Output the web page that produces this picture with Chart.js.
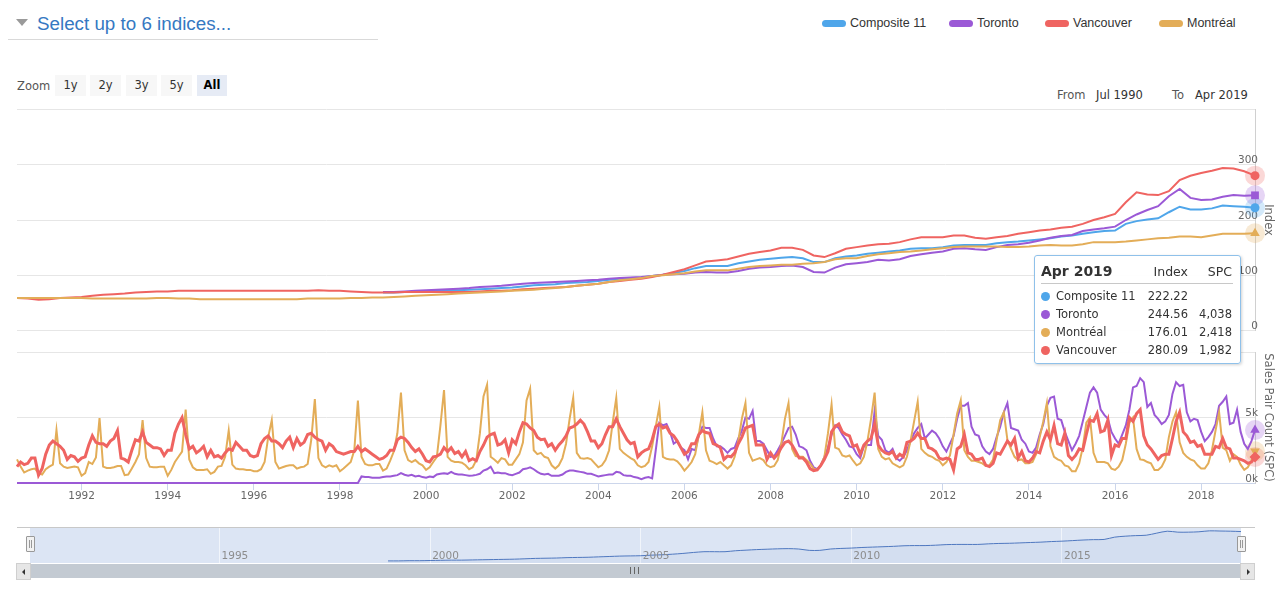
<!DOCTYPE html>
<html>
<head>
<meta charset="utf-8">
<title>House price index and sales pair count</title>
<script src="https://cdn.jsdelivr.net/npm/chart.js@4.4.1/dist/chart.umd.min.js"></script>
<style>
  html, body { margin: 0; padding: 0; background: #fff; }
  #page { position: relative; width: 1280px; height: 593px; overflow: hidden; font-family: "Liberation Sans", Arial, sans-serif; }
  .abs { position: absolute; }
  #caret { left: 16px; top: 19px; width: 0; height: 0; border-left: 6px solid transparent; border-right: 6px solid transparent; border-top: 7px solid #9a9a9a; }
  #picker { left: 37px; top: 14px; font-size: 18.8px; line-height: 19px; color: #3578c2; white-space: nowrap; }
  #pickerLine { left: 8px; top: 39px; width: 370px; height: 1px; background: #d9d9d9; }
  .leg { top: 14px; height: 18px; font-size: 12.5px; line-height: 18px; color: #333; }
  .leg i { position: absolute; left: 0; top: 6px; width: 24px; height: 7px; border-radius: 4px; }
  .leg span { position: absolute; left: 28px; top: 0; white-space: nowrap; }
  .hc { font-family: "DejaVu Sans", sans-serif; font-size: 11.5px; }
  #zoomLbl { left: 17px; top: 79px; color: #555; }
  .btn { top: 75px; height: 21px; line-height: 21px; background: #f7f7f7; color: #333; text-align: center; }
  .btn.on { background: #e6ebf5; color: #000; font-weight: bold; }
  .rng { top: 88px; color: #333; white-space: nowrap; }
  .rng.lbl { color: #555; }
  canvas { position: absolute; left: 0; }
  #cIndex { top: 100px; }
  #cSpc { top: 340px; }
  #cNav { top: 520px; }
  #navTop { left: 17px; top: 527px; width: 1238px; height: 1px; background: #c8c8c8; }
  .handle { top: 536px; width: 7px; height: 14px; background: #f2f2f2; border: 1px solid #999; border-radius: 1px; }
  .handle:after { content: ""; position: absolute; left: 2px; top: 3px; width: 1px; height: 8px; border-left: 1px solid #999; border-right: 1px solid #999; }
  #sbar { left: 30px; top: 564px; width: 1211px; height: 14px; background: #c3cad2; }
  #grip { left: 630px; top: 567px; width: 7px; height: 7px; border-left: 1px solid #666; border-right: 1px solid #666; }
  #grip:after { content: ""; position: absolute; left: 3px; top: 0; width: 1px; height: 7px; background: #666; }
  .sbtn { top: 563px; width: 13px; height: 15px; background: #e6e6e6; border: 1px solid #cfcfcf; }
  .sbtn b { position: absolute; top: 5px; width: 0; height: 0; border-top: 3px solid transparent; border-bottom: 3px solid transparent; }
  #tip { left: 1034px; top: 255px; width: 207px; height: 109px; box-sizing: border-box; background: rgba(255,255,255,0.96); border: 1px solid #8fc1ea; border-radius: 3px; box-shadow: 1px 1px 3px rgba(0,0,0,0.18); font-family: "DejaVu Sans", sans-serif; color: #333; }
  #tip div { position: absolute; white-space: nowrap; }
  #tip .r { text-align: right; }
</style>
</head>
<body>
<div id="page">
  <div id="caret" class="abs"></div>
  <div id="picker" class="abs">Select up to 6 indices...</div>
  <div id="pickerLine" class="abs"></div>
  <div id="legend"></div>

  <div id="zoomLbl" class="abs hc">Zoom</div>
  <div id="zoomBtns"></div>
  <div class="abs hc rng lbl" style="left:1057px">From</div>
  <div class="abs hc rng" style="left:1096px">Jul 1990</div>
  <div class="abs hc rng lbl" style="left:1172px">To</div>
  <div class="abs hc rng" style="left:1195px">Apr 2019</div>

  <canvas id="cIndex" width="1280" height="240"></canvas>
  <canvas id="cSpc" width="1280" height="165"></canvas>
  <canvas id="cNav" width="1280" height="60"></canvas>

  <div id="navTop" class="abs"></div>
  <div class="abs handle" style="left:26px"></div>
  <div class="abs handle" style="left:1237px"></div>
  <div id="sbar" class="abs"></div>
  <div id="grip" class="abs"></div>
  <div class="abs sbtn" style="left:16px"><b style="left:5px;border-right:3px solid #333"></b></div>
  <div class="abs sbtn" style="left:1240px"><b style="left:6px;border-left:3px solid #333"></b></div>

  <div id="tip" class="abs"></div>
</div>

<script>
// ---- data ----------------------------------------------------------------
const FIRST = 1990.5;   // Jul 1990
const LAST = 2019.25;   // Apr 2019

const seriesNames = ['Composite 11', 'Toronto', 'Vancouver', 'Montréal'];
const seriesColors = ['#4fa6ea', '#9b59d6', '#ef6461', '#e3ad58'];

const indexTicks = [0, 100, 200, 300, 400];
const spcTicks = [0, 5, 10];
const yearTicks = [1992, 1994, 1996, 1998, 2000, 2002, 2004, 2006, 2008, 2010, 2012, 2014, 2016, 2018];
const navTicks = [1995, 2000, 2005, 2010, 2015];
const zoomButtons = ['1y', '2y', '3y', '5y', 'All'];

// index, quarterly (Jan, Apr, Jul, Oct)
const idxVancouver = [
  59, 58,
  56, 57, 59, 60,   61, 63, 65, 66,   67, 69, 70, 71,   71, 72, 72, 72,
  72, 72, 72, 72,   72, 72, 72, 72,   72, 72, 73, 72,   72, 71, 70, 69,
  69, 69, 70, 70,   70, 70, 70, 70,   70, 71, 72, 72,   73, 75, 76, 77,
  78, 79, 81, 83,   85, 88, 90, 92,   94, 97, 101, 106, 111, 118, 125, 127,
  129, 134, 139, 142, 145, 150, 150, 146, 136, 133, 140, 148, 151, 154, 156, 157,
  160, 165, 169, 169, 169, 172, 172, 168, 166, 169, 171, 175, 178, 181, 183, 186,
  188, 193, 200, 205, 211, 232, 250, 246, 245, 252, 272, 280, 285, 289, 294, 293,
  288, 280.09
];
const idxMontreal = [
  59, 59,
  59, 59, 59, 59,   59, 58, 58, 58,   58, 58, 58, 59,   59, 58, 58, 57,
  57, 57, 57, 57,   57, 57, 57, 57,   57, 58, 58, 58,   58, 59, 59, 60,
  60, 61, 62, 63,   64, 65, 66, 67,   68, 69, 70, 71,   72, 73, 74, 76,
  77, 79, 81, 83,   85, 88, 91, 93,   95, 99, 100, 102, 104, 107, 109, 109,
  109, 112, 115, 117, 118, 119, 119, 121, 122, 124, 129, 131, 131, 135, 138, 140,
  142, 143, 145, 147, 149, 151, 152, 152, 152, 152, 151, 151, 152, 154, 155, 154,
  154, 156, 160, 160, 160, 161, 163, 165, 167, 168, 170, 170, 169, 172, 175, 175,
  175, 176.01
];
// Toronto and Composite 11 start in Jan 1999
const idxToronto = [
  70, 70, 71, 72,   73, 74, 75, 76,   77, 79, 80, 81,   83, 85, 86, 87,
  88, 89, 90, 91,   92, 94, 95, 96,   97, 99, 101, 102, 103, 105, 106, 105,
  105, 108, 112, 114, 115, 117, 118, 115, 106, 105, 114, 120, 122, 124, 128, 127,
  129, 135, 138, 141, 143, 148, 149, 147, 146, 151, 155, 156, 159, 163, 168, 171,
  173, 180, 183, 185, 188, 200, 210, 218, 225, 243, 256, 240, 236, 237, 242, 245,
  244, 244.56
];
const idxComposite = [
  69, 69, 70, 70,   71, 72, 73, 73,   74, 75, 76, 77,   78, 80, 82, 83,
  84, 86, 87, 88,   90, 92, 94, 95,   96, 99, 101, 104, 108, 113, 117, 117,
  117, 122, 125, 128, 130, 132, 133, 131, 124, 124, 131, 134, 136, 139, 141, 143,
  145, 148, 149, 149, 151, 154, 155, 155, 155, 158, 160, 161, 163, 165, 167, 170,
  172, 175, 178, 180, 181, 193, 198, 201, 203, 214, 224, 219, 219, 221, 226, 225,
  224, 222.22
];

// sales pair count, monthly, thousands (Jul 1990 .. Apr 2019)
const spcVancouver = [
  1.25, 1.6, 1.4, 1.5, 1.9, 1.9,
  0.6, 1.1, 2.2, 2.9, 3.2, 3.0, 2.8, 2.5, 1.8, 2.1, 2.0, 1.65,
  1.9, 2.0, 2.9, 3.6, 3.1, 3.0, 3.0, 2.8, 3.2, 3.4, 4.0, 1.9,
  1.8, 1.6, 2.5, 3.3, 3.2, 3.9, 3.1, 2.9, 2.7, 2.7, 2.6, 2.1,
  2.5, 2.5, 3.8, 4.5, 5.0, 3.7, 2.6, 2.8, 2.3, 2.5, 2.8, 2.0,
  2.5, 2.0, 2.1, 1.9, 2.3, 2.6, 2.5, 3.1, 2.8, 2.5, 2.5, 2.1,
  2.0, 2.1, 3.0, 3.4, 3.6, 3.2, 3.2, 3.0, 2.7, 3.2, 3.5, 2.7,
  3.4, 2.9, 3.1, 3.7, 3.8, 3.5, 3.3, 3.2, 2.5, 3.0, 2.8, 2.4,
  2.3, 2.2, 2.3, 2.4, 2.4, 2.8, 2.4, 2.6, 2.4, 2.2, 2.0, 1.8,
  1.9, 2.1, 2.5, 2.5, 3.3, 3.5, 3.4, 3.1, 2.7, 2.4, 2.6, 2.2,
  1.7, 1.6, 2.0, 2.05, 2.2, 2.7, 2.4, 2.7, 2.25, 2.4, 2.0, 2.4,
  1.7, 1.85, 1.7, 2.4, 2.9, 3.5, 3.7, 3.8, 2.9, 3.0, 3.3, 2.3,
  3.3, 3.0, 3.9, 4.6, 4.5, 4.2, 4.0, 3.5, 3.3, 3.35, 2.8, 3.0,
  2.5, 2.9, 3.2, 3.6, 4.2, 4.3, 4.5, 4.8, 4.5, 3.9, 3.2, 3.2,
  2.7, 3.0, 3.7, 4.3, 4.3, 4.9, 4.3, 3.8, 3.3, 3.0, 3.1, 2.0,
  2.3, 2.5, 2.6, 3.3, 4.3, 4.5, 4.2, 4.3, 3.8, 3.6, 3.2, 2.7,
  2.2, 2.4, 3.0, 3.0, 3.7, 4.0, 3.85, 3.8, 3.0, 2.9, 2.7, 1.8,
  2.05, 2.0, 2.3, 3.0, 3.5, 4.2, 4.3, 4.4, 2.9, 2.9, 2.9, 1.8,
  2.3, 1.9, 2.2, 2.7, 3.1, 3.2, 2.9, 2.4, 1.9, 1.9, 1.6, 1.1,
  0.95, 1.0, 1.35, 1.8, 2.4, 3.9, 4.3, 4.5, 3.9, 3.7, 3.6, 2.8,
  2.9, 2.2, 2.9, 3.2, 3.4, 4.5, 2.9, 2.5, 2.3, 2.2, 2.4, 1.9,
  2.2, 2.0, 3.1, 3.2, 3.4, 3.8, 3.4, 3.4, 2.7, 2.6, 2.4, 1.9,
  1.8, 1.9, 1.8, 1.0, 2.6, 2.8, 3.7, 2.3, 2.2, 1.8, 1.8, 1.9,
  1.35, 1.25, 1.5, 2.3, 2.2, 2.7, 3.2, 2.9, 3.4, 1.9, 2.4, 1.7,
  1.6, 1.9, 2.4, 2.3, 3.2, 3.9, 3.3, 4.4, 3.0, 2.9, 3.8, 2.1,
  1.8, 2.1, 2.6, 2.5, 3.7, 4.8, 4.7, 5.3, 3.9, 4.0, 4.8, 2.1,
  2.9, 2.8, 3.4, 3.4, 5.0, 4.7, 5.3, 5.6, 3.6, 2.9, 2.6, 2.2,
  1.8, 2.1, 2.2, 2.2, 3.4, 4.7, 5.4, 3.9, 3.6, 3.1, 3.2, 2.8,
  2.9, 2.2, 2.2, 2.2, 2.8, 2.7, 3.4, 2.7, 2.6, 1.9, 1.9, 1.8,
  1.7, 1.5, 1.6, 1.982
];
const spcMontreal = [
  1.8, 1.25, 0.8, 0.95, 1.05, 1.1,
  0.75, 0.65, 1.05, 1.25, 1.4, 4.05, 1.5, 1.25, 1.15, 1.2, 1.25, 1.2,
  0.55, 0.75, 1.6, 1.45, 1.95, 4.95, 1.25, 1.15, 1.15, 1.2, 1.3, 1.3,
  0.6, 0.65, 1.1, 1.6, 2.2, 4.8, 1.9, 1.25, 1.2, 1.2, 1.25, 1.25,
  0.55, 1.0, 1.6, 2.0, 2.4, 5.6, 1.8, 1.2, 1.0, 1.0, 1.0, 1.05,
  0.7, 0.85, 1.25, 1.3, 2.0, 4.0, 1.4, 1.1, 1.05, 1.05, 1.0, 1.0,
  0.9, 0.9, 1.05, 1.6, 3.5, 4.8, 1.6, 1.1, 1.2, 1.3, 1.35, 1.35,
  1.1, 1.2, 1.25, 1.45, 3.3, 6.4, 1.9, 1.35, 1.2, 1.35, 1.25, 1.35,
  0.9, 1.1, 1.35, 1.6, 2.5, 6.3, 2.0, 1.45, 1.35, 1.35, 1.45, 1.45,
  0.95, 1.1, 1.7, 2.4, 3.8, 6.9, 2.5, 1.75, 1.6, 1.75, 1.5, 1.35,
  1.0, 1.2, 1.6, 2.0, 4.4, 7.1, 2.0, 1.7, 1.6, 1.6, 1.55, 1.35,
  1.05, 1.2, 1.75, 3.8, 6.6, 7.5, 2.0, 1.8, 1.55, 1.9, 1.8, 1.4,
  1.4, 1.8, 2.2, 3.1, 6.3, 7.2, 2.5, 2.2, 2.3, 2.0, 1.9, 1.35,
  1.1, 1.35, 1.9, 3.0, 4.9, 6.5, 2.3, 1.9, 1.85, 1.9, 1.8, 1.5,
  1.2, 1.35, 1.75, 2.5, 4.6, 6.5, 2.6, 2.3, 2.1, 1.9, 1.75, 1.35,
  1.2, 1.3, 1.6, 2.8, 4.3, 5.8, 2.0, 1.85, 1.8, 1.8, 1.65, 1.35,
  0.95, 1.25, 1.6, 2.2, 3.7, 5.4, 2.5, 1.7, 1.6, 1.45, 1.6, 1.35,
  1.1, 1.35, 2.0, 3.2, 4.9, 6.1, 2.3, 1.7, 1.8, 1.9, 1.75, 1.35,
  1.2, 1.3, 1.75, 3.0, 4.9, 6.1, 2.6, 2.05, 2.0, 2.0, 1.75, 1.5,
  1.1, 1.0, 1.35, 2.0, 3.8, 6.0, 2.7, 2.6, 2.1, 2.0, 2.1, 1.7,
  1.35, 1.5, 2.0, 3.2, 4.9, 6.9, 2.6, 2.0, 1.8, 1.9, 1.5, 1.35,
  1.2, 1.35, 2.0, 3.2, 4.7, 6.2, 2.6, 2.3, 2.1, 2.0, 1.8, 1.7,
  1.35, 1.6, 2.1, 3.7, 5.3, 6.3, 2.5, 2.0, 1.7, 1.7, 1.6, 1.5,
  1.3, 1.35, 1.8, 3.3, 4.8, 5.4, 3.3, 2.6, 2.0, 1.75, 1.8, 1.5,
  1.5, 1.6, 2.2, 3.5, 4.7, 6.1, 2.8, 2.0, 1.8, 1.7, 1.35, 1.25,
  0.9, 0.9, 1.5, 2.7, 4.6, 5.0, 2.3, 1.6, 1.6, 1.6, 1.5, 1.1,
  1.0, 1.25, 1.75, 3.0, 4.6, 5.0, 2.6, 1.8, 1.75, 1.6, 1.5, 1.0,
  1.0, 1.25, 1.8, 3.5, 4.7, 5.4, 3.1, 2.3, 2.0, 1.8, 1.7, 1.35,
  1.1, 1.1, 1.5, 2.5, 4.0, 5.4, 2.7, 2.5, 1.7, 2.2, 2.0, 1.4,
  1.0, 1.2, 1.7, 2.418
];
const spcToronto = [
  0, 0, 0, 0, 0, 0,
  0, 0, 0, 0, 0, 0, 0, 0, 0, 0, 0, 0,
  0, 0, 0, 0, 0, 0, 0, 0, 0, 0, 0, 0,
  0, 0, 0, 0, 0, 0, 0, 0, 0, 0, 0, 0,
  0, 0, 0, 0, 0, 0, 0, 0, 0, 0, 0, 0,
  0, 0, 0, 0, 0, 0, 0, 0, 0, 0, 0, 0,
  0, 0, 0, 0, 0, 0, 0, 0, 0, 0, 0, 0,
  0, 0, 0, 0, 0, 0, 0, 0, 0, 0, 0, 0,
  0, 0, 0, 0, 0, 0, 0.5, 0.45, 0.45, 0.4, 0.4, 0.4,
  0.45, 0.5, 0.5, 0.55, 0.6, 0.75, 0.63, 0.55, 0.63, 0.5, 0.55, 0.45,
  0.4, 0.5, 0.45, 0.65, 0.7, 0.75, 0.7, 0.85, 0.7, 0.65, 0.65, 0.6,
  0.55, 0.57, 0.62, 0.7, 0.95, 1.05, 1.25, 0.75, 0.8, 0.75, 0.75, 0.65,
  0.6, 0.7, 0.8, 1.05, 1.1, 1.2, 1.05, 0.85, 0.7, 0.65, 0.7, 0.55,
  0.55, 0.55, 0.65, 0.85, 0.95, 0.95, 0.9, 0.85, 0.8, 0.7, 0.7, 0.6,
  0.5, 0.55, 0.6, 0.65, 0.65, 0.85, 0.8, 0.6, 0.55, 0.55, 0.45, 0.4,
  0.3, 0.4, 0.45, 0.35, 2.5, 4.6, 4.4, 4.5, 3.9, 3.0, 3.2, 2.7,
  2.5, 1.8, 2.6, 2.5, 3.6, 4.3, 4.2, 4.2, 3.4, 2.8, 2.8, 2.6,
  2.3, 2.6, 2.7, 3.4, 4.0, 5.0, 4.9, 5.5, 3.2, 3.2, 3.0, 2.5,
  2.0, 2.05, 2.5, 3.0, 3.6, 4.2, 4.3, 3.7, 2.8, 2.7, 2.5, 1.7,
  1.2, 1.05, 1.35, 2.0, 2.7, 3.7, 4.4, 4.2, 3.7, 3.3, 2.8, 2.7,
  2.2, 1.9, 2.8, 2.9, 2.9, 5.5, 3.6, 3.3, 2.5, 2.3, 2.6, 1.9,
  1.7, 2.0, 2.5, 3.2, 3.8, 4.2, 4.5, 3.4, 3.7, 4.0, 3.8, 3.4,
  2.8, 2.4, 3.0, 3.6, 4.9, 5.9, 5.9, 6.1, 4.3, 3.7, 3.6, 2.8,
  2.4, 2.2, 2.6, 3.5, 4.3, 5.4, 6.1, 4.2, 4.1, 4.0, 3.3, 3.0,
  2.4, 2.3, 2.7, 3.7, 4.5, 5.9, 6.5, 6.6, 4.9, 4.8, 3.9, 3.2,
  2.5, 3.0, 3.6, 4.7, 5.8, 6.9, 7.3, 6.9, 5.6, 5.2, 4.9, 3.9,
  3.4, 3.0, 3.7, 4.4, 5.6, 7.3, 7.4, 8.0, 7.7, 5.8, 6.1, 5.2,
  4.9, 4.5, 4.7, 5.2, 6.8, 7.7, 7.4, 7.5, 5.4, 4.7, 4.9, 4.8,
  3.9, 3.2, 3.5, 3.9, 4.5, 5.9, 6.2, 6.6, 4.5, 4.6, 5.6, 3.9,
  3.0, 2.6, 3.2, 4.038
];

// hover tooltip shown for Apr 2019
const tipRows = [
  ['Composite 11', '222.22', '', seriesColors[0]],
  ['Toronto', '244.56', '4,038', seriesColors[1]],
  ['Montréal', '176.01', '2,418', seriesColors[3]],
  ['Vancouver', '280.09', '1,982', seriesColors[2]]
];

// ---- helpers ---------------------------------------------------------------
function quarterly(start, n) {
  const xs = [];
  for (let i = 0; i < n; i++) xs.push(start + i * 0.25);
  return xs;
}
const spcMonths = [];
for (let i = 0; i < spcVancouver.length; i++) spcMonths.push(FIRST + i / 12);

const pts = (xs, ys) => ys.map((v, i) => ({ x: xs[i], y: v }));
const lastOnly = r => c => (c.dataIndex === c.dataset.data.length - 1 ? r : 0);

function line(label, data, color, width, marker, rotation) {
  return {
    label, data,
    borderColor: color, backgroundColor: color,
    borderWidth: width, tension: 0, clip: false,
    pointRadius: lastOnly(marker === 'circle' ? 4.5 : 5.5),
    pointStyle: marker, pointRotation: rotation || 0,
    pointBackgroundColor: color, pointBorderWidth: 0
  };
}

// soft halo round the hovered point, like the original hover state
const haloPlugin = {
  id: 'halo',
  beforeDatasetsDraw(chart) {
    const ctx = chart.ctx;
    chart.data.datasets.forEach((ds, i) => {
      const meta = chart.getDatasetMeta(i);
      const pt = meta.data[meta.data.length - 1];
      if (!pt) return;
      ctx.save();
      ctx.globalAlpha = 0.25;
      ctx.fillStyle = ds.borderColor;
      ctx.beginPath();
      ctx.arc(pt.x, pt.y, 10, 0, Math.PI * 2);
      ctx.fill();
      ctx.restore();
    });
  }
};

// selected range mask + year labels inside the navigator
const navMask = {
  id: 'navMask',
  beforeDraw(chart) {
    const { ctx, chartArea: a } = chart;
    ctx.save();
    ctx.fillStyle = '#dce5f4';
    ctx.fillRect(a.left, a.top, a.right - a.left, a.bottom - a.top);
    ctx.restore();
  },
  afterDraw(chart) {
    const { ctx, chartArea: a, scales: { x } } = chart;
    ctx.save();
    ctx.fillStyle = '#8c8c8c';
    ctx.font = '10.5px "DejaVu Sans", sans-serif';
    ctx.textBaseline = 'alphabetic';
    navTicks.forEach(v => ctx.fillText(String(v), x.getPixelForValue(v) + 2, a.bottom - 4));
    ctx.restore();
  }
};

// ---- html bits ---------------------------------------------------------------
const legendLeft = [822, 949, 1045, 1159];
document.getElementById('legend').innerHTML = seriesNames.map((n, i) =>
  `<div class="abs leg" style="left:${legendLeft[i]}px"><i style="background:${seriesColors[i]}"></i><span>${n}</span></div>`
).join('');

const btnLeft = [55, 90, 126, 161, 197];
document.getElementById('zoomBtns').innerHTML = zoomButtons.map((b, i) =>
  `<div class="abs hc btn${b === 'All' ? ' on' : ''}" style="left:${btnLeft[i]}px;width:${b === 'All' ? 30 : 31}px">${b}</div>`
).join('');

let tip = '<div style="left:6px;top:7px;font-size:14px;font-weight:bold">Apr 2019</div>' +
  '<div class="r" style="right:52px;top:8px;font-size:12.5px">Index</div>' +
  '<div class="r" style="right:8px;top:8px;font-size:12.5px">SPC</div>' +
  '<div style="left:6px;top:27px;width:192px;height:1px;background:#c8c8c8"></div>';
tipRows.forEach((r, i) => {
  const top = 33 + i * 18;
  tip += `<div style="left:6px;top:${top + 3}px;width:9px;height:9px;border-radius:5px;background:${r[3]}"></div>` +
    `<div style="left:21px;top:${top}px;font-size:11.5px">${r[0]}</div>` +
    `<div class="r" style="right:52px;top:${top}px;font-size:11.5px">${r[1]}</div>` +
    `<div class="r" style="right:8px;top:${top}px;font-size:11.5px">${r[2]}</div>`;
});
document.getElementById('tip').innerHTML = tip;

// ---- charts ------------------------------------------------------------------
Chart.defaults.font.family = '"DejaVu Sans", sans-serif';
Chart.defaults.color = '#666';

const base = {
  responsive: false,
  animation: false,
  events: [],
  plugins: { legend: { display: false }, tooltip: { enabled: false } }
};

// top pane: index
new Chart(document.getElementById('cIndex'), {
  type: 'line',
  data: {
    datasets: [
      line('Montréal', pts(quarterly(FIRST, idxMontreal.length), idxMontreal), seriesColors[3], 2, 'triangle'),
      line('Vancouver', pts(quarterly(FIRST, idxVancouver.length), idxVancouver), seriesColors[2], 2, 'circle'),
      line('Toronto', pts(quarterly(1999, idxToronto.length), idxToronto), seriesColors[1], 2, 'rect'),
      line('Composite 11', pts(quarterly(1999, idxComposite.length), idxComposite), seriesColors[0], 2, 'circle')
    ]
  },
  options: {
    ...base,
    layout: { padding: { left: 17, top: 8, right: 0, bottom: 7 } },
    scales: {
      x: { type: 'linear', min: FIRST, max: LAST, display: false },
      y: {
        position: 'right', min: 0, max: 400,
        afterBuildTicks: s => { s.ticks = indexTicks.map(v => ({ value: v })); },
        afterFit: s => { s.width = 25; },
        ticks: { mirror: true, padding: 3, labelOffset: -4, font: { size: 10.5 },
          callback: v => (v === 400 ? '' : String(v)) },
        grid: { color: '#e6e6e6', drawTicks: false },
        border: { display: true, color: '#d0d0d0' },
        title: { display: true, text: 'Index', font: { size: 11.5 }, padding: { top: 5, bottom: 0 } }
      }
    }
  },
  plugins: [haloPlugin]
});

// lower pane: sales pair count
new Chart(document.getElementById('cSpc'), {
  type: 'line',
  data: {
    datasets: [
      line('Vancouver', pts(spcMonths, spcVancouver), seriesColors[2], 3, 'rectRot'),
      line('Montréal', pts(spcMonths, spcMontreal), seriesColors[3], 2, 'triangle', 180),
      line('Toronto', pts(spcMonths, spcToronto), seriesColors[1], 2, 'triangle')
    ]
  },
  options: {
    ...base,
    layout: { padding: { left: 17, top: 12, right: 0, bottom: 0 } },
    scales: {
      x: {
        type: 'linear', min: FIRST, max: LAST,
        afterBuildTicks: s => { s.ticks = yearTicks.map(v => ({ value: v })); },
        afterFit: s => { s.height = 22; },
        ticks: { padding: 0, maxRotation: 0, autoSkip: false, font: { size: 10.5 }, callback: v => String(v) },
        grid: { drawOnChartArea: false, tickLength: 7, color: '#ccd6eb' },
        border: { color: '#ccd6eb' }
      },
      y: {
        position: 'right', min: 0, max: 10,
        afterBuildTicks: s => { s.ticks = spcTicks.map(v => ({ value: v })); },
        afterFit: s => { s.width = 25; },
        ticks: { mirror: true, padding: 3, labelOffset: -4, font: { size: 10.5 },
          callback: v => (v === 10 ? '' : v + 'k') },
        grid: { color: '#e6e6e6', drawTicks: false },
        border: { display: true, color: '#d0d0d0' },
        title: { display: true, text: 'Sales Pair Count (SPC)', font: { size: 11.5 }, padding: { top: 5, bottom: 0 } }
      }
    }
  },
  plugins: [haloPlugin]
});

// navigator
new Chart(document.getElementById('cNav'), {
  type: 'line',
  data: {
    datasets: [{
      label: 'Composite 11',
      data: pts(quarterly(1999, idxComposite.length), idxComposite),
      borderColor: '#4f78c0', borderWidth: 1, tension: 0.3,
      pointRadius: 0, fill: 'start', backgroundColor: 'rgba(51,92,173,0.05)'
    }]
  },
  options: {
    ...base,
    layout: { padding: { left: 30, right: 39, top: 7, bottom: 17 } },
    scales: {
      x: {
        type: 'linear', min: FIRST, max: LAST,
        afterBuildTicks: s => { s.ticks = navTicks.map(v => ({ value: v })); },
        afterFit: s => { s.height = 0; },
        ticks: { display: false },
        grid: { color: 'rgba(255,255,255,0.6)', drawTicks: false },
        border: { display: false }
      },
      y: { display: false, min: 58, max: 246 }
    }
  },
  plugins: [navMask]
});
</script>
</body>
</html>
